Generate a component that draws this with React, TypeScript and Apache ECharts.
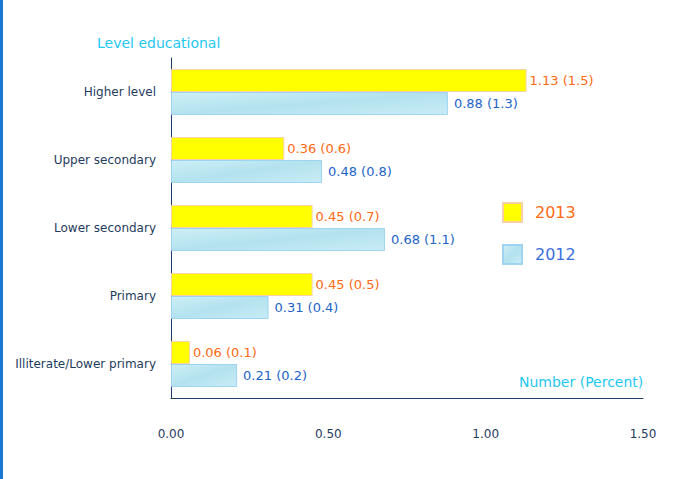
import React, { useEffect, useRef } from "react";
import * as echarts from "echarts";

const categories = ["Illiterate/Lower primary", "Primary", "Lower secondary", "Upper secondary", "Higher level"];
const values2013 = [0.06, 0.45, 0.45, 0.36, 1.13];
const percent2013 = [0.1, 0.5, 0.7, 0.6, 1.5];
const values2012 = [0.21, 0.31, 0.68, 0.48, 0.88];
const percent2012 = [0.2, 0.4, 1.1, 0.8, 1.3];
const xTicks = [0, 0.5, 1.0, 1.5];

const FONT = "DejaVu Sans";

export default function App() {
  const ref = useRef<HTMLDivElement>(null);
  useEffect(() => {
    if (!ref.current) return;
    const chart = echarts.init(ref.current, undefined, { renderer: "svg" });
    const blueFill = new echarts.graphic.LinearGradient(0, 0, 1, 1, [
      { offset: 0, color: "#cdeff7" },
      { offset: 0.5, color: "#b3e2ee" },
      { offset: 1, color: "#c8ecf6" },
    ]);
    chart.setOption({
      animation: false,
      backgroundColor: "#ffffff",
      textStyle: { fontFamily: FONT },
      grid: { left: 171, top: 58, right: 45, bottom: 81, containLabel: false },
      xAxis: {
        type: "value",
        min: xTicks[0],
        max: xTicks[xTicks.length - 1],
        interval: 0.5,
        axisLine: { show: true, lineStyle: { color: "#1f3b6a", width: 1 } },
        axisTick: { show: false },
        splitLine: { show: false },
        axisLabel: {
          margin: 30,
          color: "#1f3b5e",
          fontSize: 12,
          fontFamily: FONT,
          formatter: (v: number) => v.toFixed(2),
        },
      },
      yAxis: {
        type: "category",
        data: categories,
        axisLine: { show: true, lineStyle: { color: "#1f3b6a", width: 1 } },
        axisTick: { show: false },
        axisLabel: { margin: 15, color: "#1f3b5e", fontSize: 12, fontFamily: FONT },
      },
      legend: {
        orient: "vertical",
        left: 497,
        top: 197,
        itemWidth: 19,
        itemHeight: 19,
        itemGap: 21,
        icon: "rect",
        textStyle: { fontSize: 16, fontFamily: FONT, padding: [0, 0, 0, 8] },
        data: [
          { name: "2013", textStyle: { color: "#ff6a13" } },
          { name: "2012", textStyle: { color: "#3b6fe0" } },
        ],
      },
      series: [
        {
          name: "2013",
          type: "bar",
          data: values2013,
          barWidth: 23,
          barGap: "0%",
          itemStyle: { color: "#ffff00", borderColor: "#fbcfa6", borderWidth: 1 },
          label: {
            show: true,
            position: "right",
            distance: 3,
            color: "#ff6a13",
            fontSize: 13,
            fontFamily: FONT,
            formatter: (p: any) => `${p.value.toFixed(2)} (${percent2013[p.dataIndex]})`,
          },
        },
        {
          name: "2012",
          type: "bar",
          data: values2012,
          barWidth: 23,
          barGap: "0%",
          itemStyle: { color: blueFill, borderColor: "#9fd3f2", borderWidth: 1 },
          label: {
            show: true,
            position: "right",
            distance: 6,
            color: "#1e64c8",
            fontSize: 13,
            fontFamily: FONT,
            formatter: (p: any) => `${p.value.toFixed(2)} (${percent2012[p.dataIndex]})`,
          },
        },
      ],
      graphic: [
        { type: "rect", left: 0, top: 0, shape: { width: 3, height: 479 }, style: { fill: "#1a78d2" } },
        {
          type: "text",
          left: 97,
          top: 36,
          style: { text: "Level educational", fill: "#1ec8f0", fontSize: 14, fontFamily: FONT },
        },
        {
          type: "text",
          left: 519,
          top: 375,
          style: { text: "Number (Percent)", fill: "#1ec8f0", fontSize: 14, fontFamily: FONT },
        },
      ],
    });
    return () => chart.dispose();
  }, []);
  return (
    <div
      ref={ref}
      style={{ position: "fixed", left: 0, top: 0, width: 688, height: 479, background: "#fff" }}
    />
  );
}
